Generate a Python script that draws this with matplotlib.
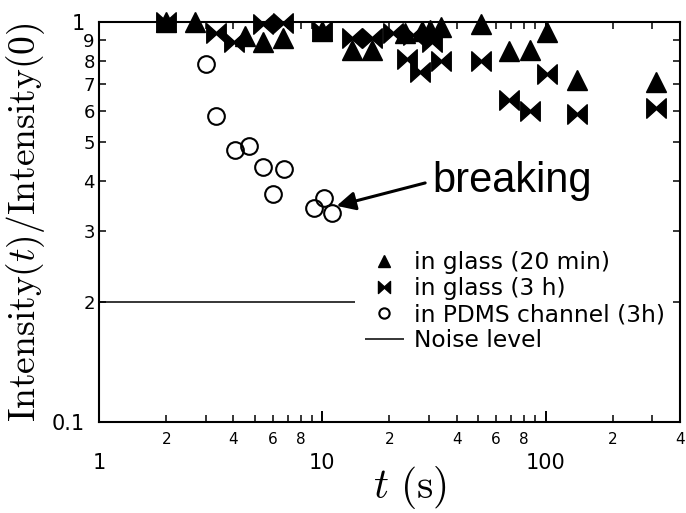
import numpy as np
import matplotlib
matplotlib.use('Agg')
import matplotlib.pyplot as plt
from matplotlib.path import Path
from matplotlib import ticker

plt.rcParams['font.family'] = ['DejaVu Sans']
plt.rcParams['mathtext.fontset'] = 'cm'

# photobleaching data: normalised intensity vs time
t_glass_20min = [2.0, 2.7, 4.5, 5.4, 6.7, 10.0, 13.6, 16.7, 23.5, 28.0,
                 30.5, 34.0, 51.4, 68.6, 85.0, 101.0, 138.0, 312.0]
i_glass_20min = [1.0, 1.0, 0.92, 0.89, 0.91, 0.95, 0.85, 0.85, 0.94, 0.95,
                 0.955, 0.97, 0.99, 0.846, 0.85, 0.945, 0.716, 0.708]

t_glass_3h = [2.0, 3.34, 4.02, 5.4, 6.7, 10.0, 13.6, 16.7, 20.7, 24.0,
              25.5, 27.4, 31.0, 34.0, 51.4, 68.6, 85.0, 101.0, 138.0, 312.0]
i_glass_3h = [1.0, 0.94, 0.89, 0.99, 0.995, 0.95, 0.91, 0.91, 0.94, 0.81,
              0.93, 0.75, 0.89, 0.80, 0.80, 0.64, 0.60, 0.74, 0.59, 0.61]

t_pdms = [3.0, 3.33, 4.08, 4.71, 5.44, 6.76, 6.03, 9.15, 10.2, 11.1]
i_pdms = [0.785, 0.582, 0.479, 0.490, 0.434, 0.429, 0.372, 0.343, 0.363, 0.333]

noise_level = 0.2
noise_t = (1, 14)
breaking_t, breaking_i = 11.6, 0.347

# bow-tie marker: two triangles meeting at the centre
bowtie = Path([(-1, -1), (-1, 1), (0, 0.1), (1, 1), (1, -1), (0, -0.1), (-1, -1)],
              [Path.MOVETO] + [Path.LINETO] * 5 + [Path.CLOSEPOLY])

fig = plt.figure(figsize=(6.86, 5.13), dpi=100)
ax = fig.add_axes([0.1443, 0.1774, 0.8469, 0.7797])

ax.hlines(noise_level, *noise_t, color='k', lw=1.1, zorder=1, label='Noise level')
ax.plot(t_glass_20min, i_glass_20min, ls='none', marker='^', ms=14, color='k',
        clip_on=False, zorder=3, label='in glass (20 min)')
ax.plot(t_glass_3h, i_glass_3h, ls='none', marker=bowtie, ms=14, color='k',
        clip_on=False, zorder=3, label='in glass (3 h)')
ax.plot(t_pdms, i_pdms, ls='none', marker='o', ms=12, mfc='none', mec='k',
        mew=1.5, clip_on=False, zorder=3, label='in PDMS channel (3h)')

ax.annotate('breaking', xy=(breaking_t, breaking_i), xytext=(31, 0.40),
            fontsize=30, ha='left', va='center', family='Liberation Sans',
            arrowprops=dict(arrowstyle='-|>', color='k', lw=2.2,
                            mutation_scale=28, shrinkA=3, shrinkB=0,
                            relpos=(0, 0.5)))

ax.set_xscale('log')
ax.set_yscale('log')
ax.set_xlim(1, 400)
ax.set_ylim(0.1, 1)

ax.xaxis.set_major_locator(ticker.LogLocator(base=10))
ax.xaxis.set_minor_locator(ticker.LogLocator(base=10, subs=np.arange(2, 10)))
ax.yaxis.set_major_locator(ticker.FixedLocator([0.1, 1]))
ax.yaxis.set_minor_locator(ticker.FixedLocator(np.arange(2, 10) / 10))


def lead_digit(v):
    return int(round(v / 10 ** np.floor(np.log10(v) + 1e-9)))


def x_minor_fmt(v, pos):
    d = lead_digit(v)
    return str(d) if d in (2, 4, 6, 8) else ''


ax.xaxis.set_major_formatter(ticker.FuncFormatter(lambda v, p: f'{v:g}'))
ax.xaxis.set_minor_formatter(ticker.FuncFormatter(x_minor_fmt))
ax.yaxis.set_major_formatter(ticker.FuncFormatter(lambda v, p: f'{v:g}'))
ax.yaxis.set_minor_formatter(ticker.FuncFormatter(lambda v, p: str(lead_digit(v))))

ax.tick_params(which='both', direction='in', top=True, right=True, color='k')
ax.tick_params(which='major', length=8, width=1.4)
ax.tick_params(which='minor', length=5, width=1.1)
ax.tick_params(axis='x', which='major', labelsize=15, pad=22)
ax.tick_params(axis='x', which='minor', labelsize=11, pad=7)
ax.tick_params(axis='y', which='major', labelsize=15, pad=10)
ax.tick_params(axis='y', which='minor', labelsize=13, pad=3)
for s in ax.spines.values():
    s.set_linewidth(1.5)

ax.set_ylabel(r'$\mathrm{Intensity}(t)/\mathrm{Intensity}(0)$', fontsize=27)
ax.yaxis.set_label_coords(-0.09, 0.5)
ax.set_xlabel(r'$t\ (\mathrm{s})$', fontsize=30)
ax.xaxis.set_label_coords(0.535, -0.105)

handles, labels = ax.get_legend_handles_labels()
order = [1, 2, 3, 0]
leg = ax.legend([handles[k] for k in order], [labels[k] for k in order],
                loc='upper left', bbox_to_anchor=(0.442, 0.45),
                borderaxespad=0, fontsize=16.8, markerscale=0.62,
                handlelength=1.65, handletextpad=0.45, labelspacing=0.13,
                frameon=False)

fig.savefig('out.png', dpi=100)
